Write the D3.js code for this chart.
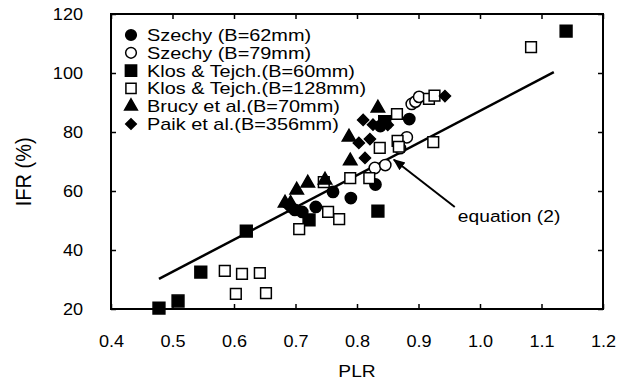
<!DOCTYPE html>
<html><head><meta charset="utf-8">
<script src="https://cdn.jsdelivr.net/npm/d3@7"></script>
<style>
html,body{margin:0;padding:0;background:#fff;}
svg{display:block;font-family:"Liberation Sans",Arial,sans-serif;}
</style></head>
<body>
<svg id="c" width="622" height="385"></svg>
<script>
// ---- data ----
const xTicks = [0.4,0.5,0.6,0.7,0.8,0.9,1.0,1.1,1.2];
const yTicks = [20,40,60,80,100,120];
const xTickLabels = ["0.4","0.5","0.6","0.7","0.8","0.9","1.0","1.1","1.2"];
const yTickLabels = ["20","40","60","80","100","120"];
const seriesNames = ["Szechy (B=62mm)","Szechy (B=79mm)","Klos & Tejch.(B=60mm)","Klos & Tejch.(B=128mm)","Brucy et al.(B=70mm)","Paik et al.(B=356mm)"];
const szechy62 = [[0.699,53.6],[0.711,52.9],[0.733,54.6],[0.761,59.7],[0.790,57.6],[0.830,62.2],[0.838,82.0],[0.885,84.4]];
const szechy79 = [[0.829,67.8],[0.846,68.8],[0.870,74.5],[0.881,78.2],[0.889,89.5],[0.895,90.3],[0.901,91.9]];
const klos60 = [[0.478,20.3],[0.509,22.7],[0.546,32.5],[0.620,46.4],[0.722,50.2],[0.834,53.2],[0.845,83.5],[1.140,114.2]];
const klos128 = [[0.585,32.9],[0.613,31.9],[0.642,32.2],[0.603,25.1],[0.652,25.4],[0.706,47.1],[0.746,63.0],[0.753,52.9],[0.771,50.5],[0.789,64.4],[0.820,64.4],[0.837,74.6],[0.866,77.0],[0.868,75.0],[0.865,86.1],[0.917,91.2],[0.926,92.3],[0.924,76.6],[1.083,108.8]];
const brucy70 = [[0.683,55.9],[0.692,55.8],[0.702,60.3],[0.720,62.7],[0.748,63.7],[0.789,70.2],[0.787,78.3],[0.834,88.1]];
const paik356 = [[0.690,54.6],[0.803,76.3],[0.821,77.6],[0.813,71.2],[0.810,84.1],[0.826,82.5],[0.850,82.4],[0.943,92.2]];
const fitLine = [[0.478,30.2],[1.12,100.3]];
const arrowLine = [[0.959,54.6],[0.860,70.6]];
const annotationText = "equation (2)";
const annotationPos = [0.964,49.6];
const xTitle = "PLR", yTitle = "IFR (%)";

// ---- chart ----
const svg = d3.select("#c");
const SX = 1.13; // horizontal glyph stretch of the original
const x = d3.scaleLinear().domain([0.4,1.2]).range([111,603]);
const y = d3.scaleLinear().domain([20,120]).range([309,14]);

const styles = [
  {type:d3.symbolCircle, size:100, fill:"#000", rot:0},
  {type:d3.symbolCircle, size:100, fill:"#fff", rot:0},
  {type:d3.symbolSquare, size:140, fill:"#000", rot:0},
  {type:d3.symbolSquare, size:115, fill:"#fff", rot:0},
  {type:d3.symbolTriangle, size:78, fill:"#000", rot:0},
  {type:d3.symbolSquare, size:62, fill:"#000", rot:45}
];
const allSeries = [szechy62, szechy79, klos60, klos128, brucy70, paik356];

// axes frame with inward ticks
const g = svg.append("g");
function styleAxis(sel){ sel.select(".domain").remove(); sel.selectAll("line").attr("stroke","#000").attr("stroke-width",1.5); }
g.append("g").attr("transform",`translate(0,${y(20)})`)
  .call(d3.axisBottom(x).tickValues(xTicks).tickSize(-5).tickFormat((d,i)=>xTickLabels[i]).tickPadding(27))
  .call(styleAxis)
  .call(s=>s.selectAll("text").attr("font-size",16).attr("fill","#000").attr("font-family","Liberation Sans, Arial").attr("transform",`scale(${SX},1)`));
g.append("g").attr("transform",`translate(0,${y(120)})`)
  .call(d3.axisTop(x).tickValues(xTicks).tickSize(-5).tickFormat(""))
  .call(styleAxis);
g.append("g").attr("transform",`translate(${x(0.4)},0)`)
  .call(d3.axisLeft(y).tickValues(yTicks).tickSize(-5).tickFormat((d,i)=>yTickLabels[i]).tickPadding(0))
  .call(styleAxis)
  .call(s=>s.selectAll("text").attr("font-size",16).attr("fill","#000").attr("font-family","Liberation Sans, Arial").attr("x",-28/SX).attr("transform",`scale(${SX},1)`));
g.append("g").attr("transform",`translate(${x(1.2)},0)`)
  .call(d3.axisRight(y).tickValues(yTicks).tickSize(-5).tickFormat(""))
  .call(styleAxis);
g.append("rect").attr("x",x(0.4)).attr("y",y(120)).attr("width",x(1.2)-x(0.4)).attr("height",y(20)-y(120))
  .attr("fill","none").attr("stroke","#000").attr("stroke-width",2);

// axis titles
svg.append("text").attr("transform",`translate(${x(0.8)},377) scale(${SX},1)`).attr("text-anchor","middle")
  .attr("font-size",17).text(xTitle);
svg.append("text").attr("transform",`translate(31,${y(66.5)}) rotate(-90) scale(1,${SX})`).attr("text-anchor","middle")
  .attr("font-size",20).text(yTitle);

// fit line
const line = d3.line().x(d=>x(d[0])).y(d=>y(d[1]));
svg.append("path").attr("d",line(fitLine)).attr("stroke","#000").attr("stroke-width",2.5).attr("fill","none");

// points
allSeries.forEach((data,i)=>{
  const st = styles[i];
  const sym = d3.symbol().type(st.type).size(st.size);
  svg.append("g").selectAll("path").data(data).join("path")
    .attr("d",sym)
    .attr("transform",d=>`translate(${x(d[0])},${y(d[1])}) rotate(${st.rot})`)
    .attr("fill",st.fill).attr("stroke","#000").attr("stroke-width",1.5);
});

// arrow annotation
svg.append("defs").append("marker").attr("id","ah").attr("viewBox","0 0 10 10").attr("refX",9).attr("refY",5)
  .attr("markerWidth",6).attr("markerHeight",6).attr("orient","auto")
  .append("path").attr("d","M0,1 L10,5 L0,9 z").attr("fill","#000");
svg.append("path").attr("d",line(arrowLine)).attr("stroke","#000").attr("stroke-width",2).attr("fill","none").attr("marker-end","url(#ah)");
svg.append("text").attr("transform",`translate(${x(annotationPos[0])},${y(annotationPos[1])}) scale(${SX},1)`)
  .attr("font-size",17).text(annotationText);

// legend
const leg = svg.append("g");
seriesNames.forEach((name,i)=>{
  const st = styles[i];
  const cy = 35 + i*17.8;
  leg.append("path").attr("d",d3.symbol().type(st.type).size(st.size*0.9)())
    .attr("transform",`translate(131,${cy}) rotate(${st.rot})`).attr("fill",st.fill).attr("stroke","#000").attr("stroke-width",1.5);
  leg.append("text").attr("transform",`translate(147,${cy+6}) scale(1.17,1)`).attr("font-size",17).text(name);
});
</script>
</body></html>
